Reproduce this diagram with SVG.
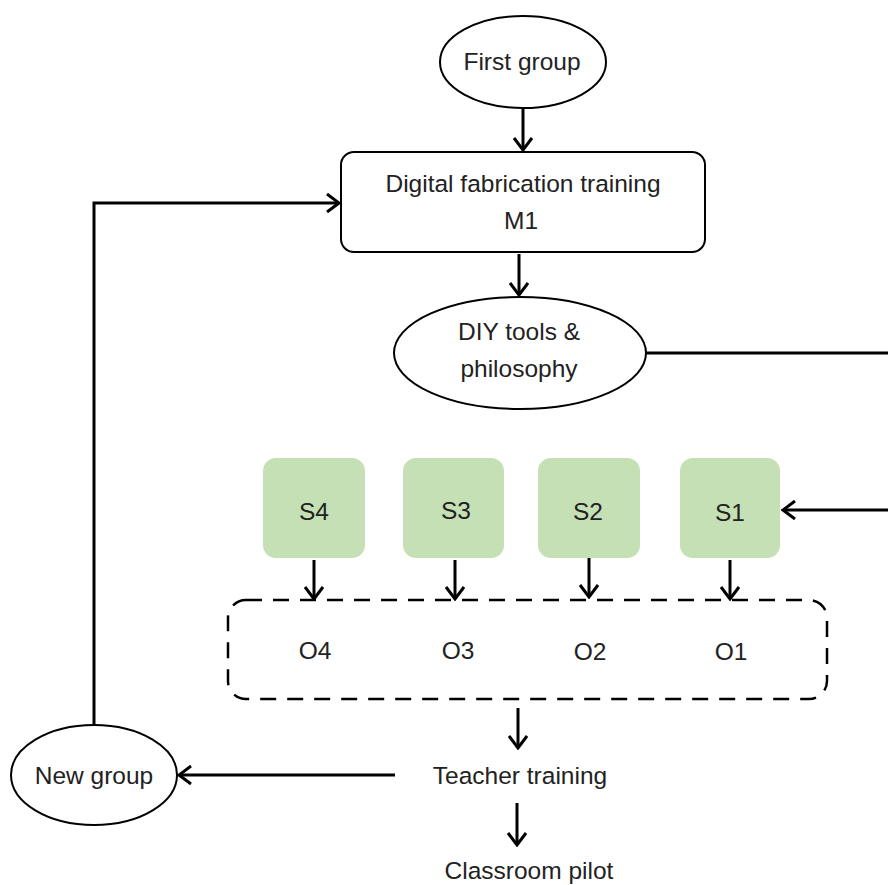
<svg xmlns="http://www.w3.org/2000/svg" width="888" height="885" viewBox="0 0 888 885">
<defs>
<marker id="ah" viewBox="0 0 16 20" refX="14" refY="10" markerWidth="16" markerHeight="20" markerUnits="userSpaceOnUse" orient="auto">
<path d="M2,1 L14,10 L2,19" fill="none" stroke="#000" stroke-width="3"/>
</marker>
<style>
.t{font-family:"Liberation Sans",Arial,sans-serif;font-size:24.5px;fill:#222;text-anchor:middle}
.n{fill:#fff;stroke:#000;stroke-width:2}
.s{fill:#c5e0b4;stroke:none}
.c{fill:none;stroke:#000;stroke-width:3}
.a{marker-end:url(#ah)}
</style>
</defs>
<rect width="888" height="885" fill="#fff"/>
<g id="connectors">
<line class="c a" x1="523" y1="109" x2="523" y2="150"/>
<line class="c a" x1="519" y1="254" x2="519" y2="295"/>
<line class="c" x1="646" y1="353" x2="888" y2="353"/>
<line class="c a" x1="888" y1="510" x2="783" y2="510"/>
<line class="c a" x1="314" y1="560" x2="314" y2="599"/>
<line class="c a" x1="455" y1="560" x2="455" y2="599"/>
<line class="c a" x1="589" y1="558" x2="589" y2="597"/>
<line class="c a" x1="730" y1="560" x2="730" y2="599"/>
<line class="c a" x1="518" y1="708" x2="518" y2="748"/>
<line class="c a" x1="517" y1="803" x2="517" y2="845"/>
<line class="c a" x1="395" y1="775" x2="179" y2="775"/>
<polyline class="c a" points="94,724 94,203 339,203"/>
</g>
<g id="first-group">
<ellipse class="n" cx="523" cy="62" rx="83" ry="46"/>
<text class="t" x="522" y="70">First group</text>
</g>
<g id="digital-fabrication">
<rect class="n" x="341" y="152" width="364" height="100" rx="13"/>
<text class="t" x="523" y="192">Digital fabrication training</text>
<text class="t" x="521" y="229">M1</text>
</g>
<g id="diy">
<ellipse class="n" cx="520" cy="353" rx="126" ry="56"/>
<text class="t" x="519" y="340">DIY tools &amp;</text>
<text class="t" x="519" y="377">philosophy</text>
</g>
<g id="s4"><rect class="s" x="263" y="458" width="102" height="100" rx="13"/><text class="t" x="314" y="520">S4</text></g>
<g id="s3"><rect class="s" x="403" y="458" width="101" height="100" rx="13"/><text class="t" x="456" y="519">S3</text></g>
<g id="s2"><rect class="s" x="538" y="458" width="102" height="100" rx="13"/><text class="t" x="588" y="520">S2</text></g>
<g id="s1"><rect class="s" x="680" y="458" width="100" height="100" rx="13"/><text class="t" x="730" y="521">S1</text></g>
<g id="outputs">
<rect x="228" y="600" width="599" height="99" rx="18" fill="none" stroke="#000" stroke-width="2.5" stroke-dasharray="16 11"/>
<text class="t" x="315" y="659">O4</text>
<text class="t" x="458" y="659">O3</text>
<text class="t" x="590" y="660">O2</text>
<text class="t" x="731" y="660">O1</text>
</g>
<g id="new-group">
<ellipse class="n" cx="94" cy="775" rx="83" ry="50"/>
<text class="t" x="94" y="784">New group</text>
</g>
<g id="teacher-training"><text class="t" x="520" y="784">Teacher training</text></g>
<g id="classroom-pilot"><text class="t" x="529" y="879">Classroom pilot</text></g>
</svg>
